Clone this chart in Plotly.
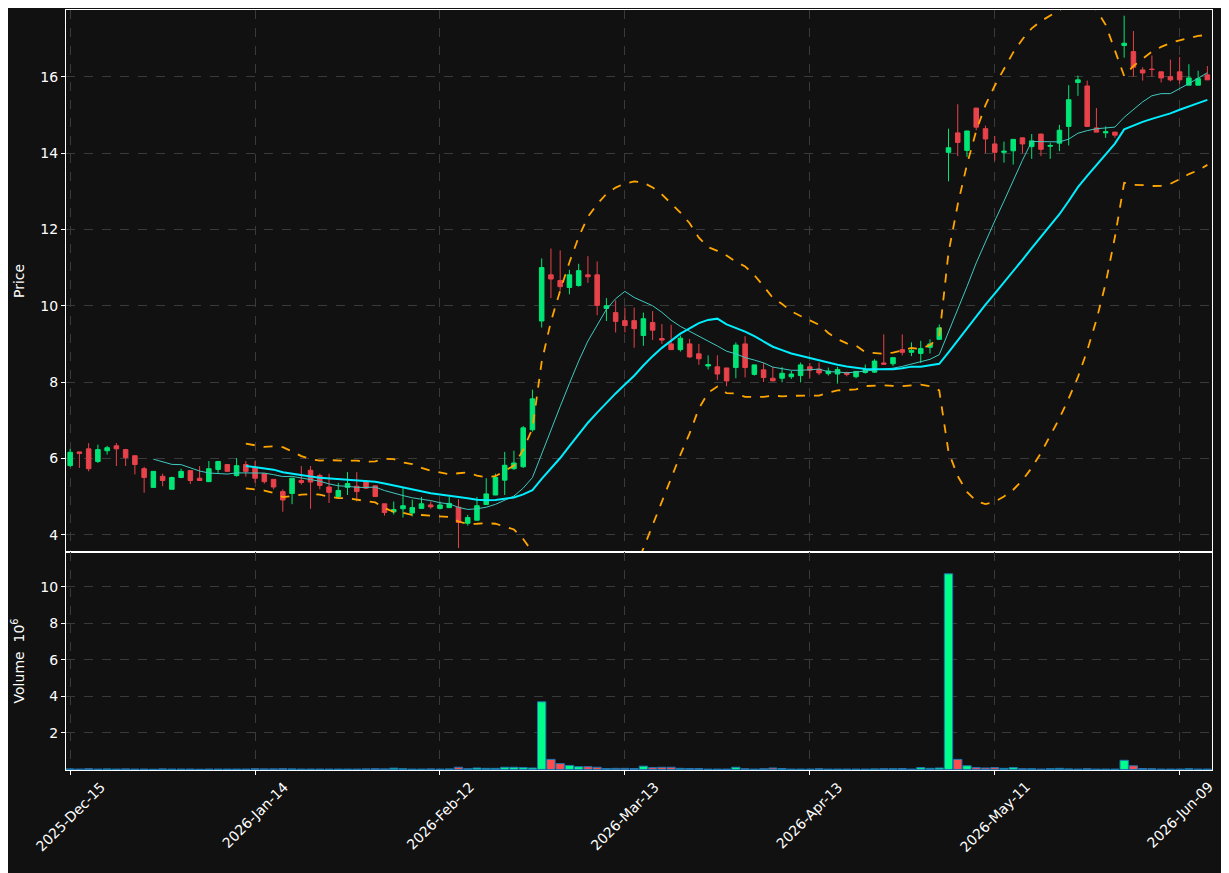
import numpy as np
import pandas as pd
import plotly.graph_objects as go
from plotly.subplots import make_subplots

# trading days (NYSE holidays skipped)
holidays = ["2025-12-25", "2026-01-01", "2026-01-19", "2026-02-16", "2026-04-03", "2026-05-25"]
dates = pd.bdate_range("2025-12-15", periods=124, freq="C", holidays=holidays)

opens = [5.81, 6.17, 6.25, 5.92, 6.20, 6.33, 6.23, 6.07, 5.73, 5.24,
         5.53, 5.19, 5.50, 5.68, 5.48, 5.39, 5.71, 5.84, 5.55, 5.84,
         5.76, 5.60, 5.45, 5.13, 5.08, 5.42, 5.69, 5.55, 5.25, 5.00,
         5.24, 5.27, 5.40, 5.28, 4.81, 4.60, 4.68, 4.57, 4.69, 4.78,
         4.69, 4.71, 4.72, 4.30, 4.38, 4.79, 5.04, 5.43, 5.73, 5.78,
         6.75, 9.60, 10.81, 10.66, 10.48, 10.53, 10.81, 10.81, 9.93, 9.82,
         9.61, 9.61, 9.22, 9.56, 9.14, 9.00, 8.85, 9.00, 8.74, 8.42,
         8.40, 8.37, 8.38, 9.00, 8.20, 8.32, 8.10, 8.10, 8.14, 8.17,
         8.40, 8.34, 8.22, 8.21, 8.25, 8.14, 8.25, 8.26, 8.50, 8.48,
         8.85, 8.78, 8.75, 8.91, 9.12, 14.02, 14.53, 14.07, 15.18, 14.64,
         14.24, 14.02, 14.06, 14.40, 14.17, 14.50, 14.18, 14.26, 14.70, 15.85,
         15.76, 14.66, 14.53, 14.55, 16.82, 16.66, 16.18, 16.20, 16.13, 16.00,
         16.13, 15.78, 15.78, 16.05]
highs = [6.25, 6.17, 6.40, 6.36, 6.33, 6.40, 6.25, 6.07, 5.78, 5.66,
         5.60, 5.52, 5.73, 5.68, 5.80, 5.93, 5.92, 5.84, 6.01, 5.93,
         5.93, 5.60, 5.45, 5.19, 5.48, 5.80, 5.80, 5.60, 5.60, 5.36,
         5.64, 5.64, 5.40, 5.28, 4.81, 4.87, 5.25, 4.92, 4.99, 4.87,
         4.87, 4.99, 4.93, 4.52, 4.99, 5.48, 5.60, 6.17, 6.20, 6.85,
         7.80, 11.24, 11.50, 11.45, 10.94, 11.10, 11.30, 11.16, 10.20, 10.14,
         9.95, 9.95, 9.82, 9.86, 9.52, 9.50, 9.22, 9.13, 9.00, 8.70,
         8.70, 8.37, 9.04, 9.20, 8.45, 8.50, 8.40, 8.39, 8.29, 8.51,
         8.50, 8.51, 8.38, 8.40, 8.27, 8.28, 8.46, 8.60, 9.25, 8.64,
         9.25, 9.04, 9.08, 9.12, 9.51, 14.64, 15.28, 14.58, 15.18, 14.72,
         14.45, 14.30, 14.36, 14.40, 14.50, 14.50, 14.27, 14.74, 15.78, 16.03,
         15.90, 15.18, 14.70, 14.55, 17.60, 17.20, 16.25, 16.56, 16.13, 16.45,
         16.52, 16.33, 16.16, 16.28]
lows = [5.78, 5.75, 5.66, 5.88, 6.10, 5.80, 5.80, 5.58, 5.10, 5.24,
        5.27, 5.19, 5.48, 5.33, 5.42, 5.39, 5.62, 5.66, 5.52, 5.52,
        5.36, 5.34, 5.19, 4.60, 4.80, 5.31, 4.68, 5.19, 4.83, 4.96,
        5.04, 4.87, 5.20, 5.00, 4.50, 4.53, 4.45, 4.48, 4.69, 4.68,
        4.66, 4.71, 3.65, 4.24, 4.38, 4.79, 5.04, 5.04, 5.70, 5.75,
        6.70, 9.43, 10.20, 10.40, 10.30, 10.50, 10.60, 9.75, 9.60, 9.30,
        9.30, 8.90, 8.95, 9.10, 9.00, 8.85, 8.80, 8.63, 8.45, 8.33,
        8.05, 7.89, 8.10, 8.12, 8.17, 8.00, 8.03, 7.99, 8.08, 7.99,
        8.10, 8.18, 8.17, 7.96, 8.15, 8.10, 8.22, 8.24, 8.45, 8.42,
        8.70, 8.68, 8.50, 8.75, 9.10, 13.26, 13.92, 13.90, 14.60, 14.00,
        13.80, 13.75, 13.70, 14.00, 13.85, 13.92, 13.85, 14.05, 14.20, 15.50,
        14.70, 14.55, 14.40, 14.40, 16.50, 16.00, 15.90, 16.00, 15.85, 15.88,
        15.82, 15.78, 15.78, 15.92]
closes = [6.16, 6.13, 5.73, 6.23, 6.28, 6.25, 6.02, 5.84, 5.50, 5.66,
          5.42, 5.50, 5.66, 5.42, 5.42, 5.73, 5.92, 5.66, 5.81, 5.66,
          5.48, 5.39, 5.25, 4.91, 5.48, 5.37, 5.38, 5.29, 5.11, 5.16,
          5.34, 5.13, 5.22, 5.00, 4.58, 4.66, 4.76, 4.71, 4.81, 4.73,
          4.78, 4.82, 4.32, 4.45, 4.76, 5.07, 5.50, 5.82, 5.88, 6.80,
          7.56, 11.00, 10.70, 10.50, 10.81, 10.92, 10.76, 10.01, 10.00, 9.59,
          9.48, 9.40, 9.66, 9.36, 9.10, 8.85, 9.15, 8.66, 8.61, 8.46,
          8.21, 8.03, 8.97, 8.38, 8.45, 8.12, 8.03, 8.23, 8.21, 8.45,
          8.31, 8.24, 8.29, 8.33, 8.20, 8.28, 8.33, 8.55, 8.47, 8.64,
          8.78, 8.83, 8.88, 9.00, 9.42, 14.14, 14.28, 14.58, 14.68, 14.37,
          14.02, 14.05, 14.36, 14.24, 14.32, 14.10, 14.20, 14.60, 15.40, 15.92,
          14.70, 14.55, 14.56, 14.47, 16.88, 16.25, 16.10, 16.19, 15.97, 15.92,
          15.92, 15.97, 15.95, 15.92]
volumes = [0.03, 0.02, 0.04, 0.02, 0.03, 0.02, 0.03, 0.02, 0.02, 0.01,
           0.03, 0.02, 0.02, 0.02, 0.01, 0.02, 0.02, 0.02, 0.02, 0.02,
           0.04, 0.03, 0.03, 0.04, 0.03, 0.02, 0.02, 0.02, 0.02, 0.02,
           0.02, 0.02, 0.03, 0.04, 0.03, 0.07, 0.04, 0.02, 0.02, 0.03,
           0.02, 0.03, 0.12, 0.04, 0.08, 0.06, 0.06, 0.12, 0.12, 0.10,
           0.08, 3.70, 0.55, 0.32, 0.22, 0.15, 0.15, 0.12, 0.05, 0.06,
           0.06, 0.05, 0.18, 0.10, 0.12, 0.12, 0.06, 0.05, 0.05, 0.02,
           0.02, 0.02, 0.12, 0.04, 0.02, 0.04, 0.08, 0.05, 0.02, 0.02,
           0.02, 0.04, 0.02, 0.02, 0.02, 0.02, 0.02, 0.03, 0.04, 0.04,
           0.05, 0.02, 0.10, 0.06, 0.08, 10.70, 0.55, 0.20, 0.10, 0.08,
           0.10, 0.06, 0.10, 0.04, 0.04, 0.02, 0.04, 0.06, 0.03, 0.02,
           0.04, 0.02, 0.02, 0.02, 0.50, 0.20, 0.05, 0.04, 0.02, 0.02,
           0.02, 0.04, 0.02, 0.02]

UP = "#00e676"
DOWN = "#e8424a"
VUP = "#00ff88"
VDOWN = "#ff4d4d"
GRID = "#3a3a3a"

x = np.arange(len(dates))
close_s = pd.Series(closes)
mav10 = close_s.rolling(10).mean()
mav20 = close_s.rolling(20).mean()
std20 = close_s.rolling(20).std()
upper = mav20 + 2 * std20
lower = mav20 - 2 * std20

fig = make_subplots(rows=2, cols=1, shared_xaxes=True, vertical_spacing=0,
                    row_heights=[0.713, 0.287])

fig.add_trace(go.Candlestick(x=x, open=opens, high=highs, low=lows, close=closes,
                             increasing=dict(line=dict(color=UP, width=1), fillcolor=UP),
                             decreasing=dict(line=dict(color=DOWN, width=1), fillcolor=DOWN),
                             whiskerwidth=0, showlegend=False), row=1, col=1)
fig.add_trace(go.Scatter(x=x, y=mav10, mode="lines", line=dict(color="#3fc9c0", width=1),
                         showlegend=False), row=1, col=1)
fig.add_trace(go.Scatter(x=x, y=mav20, mode="lines", line=dict(color="#00eeff", width=2),
                         showlegend=False), row=1, col=1)
for band in (upper, lower):
    fig.add_trace(go.Scatter(x=x, y=band, mode="lines",
                             line=dict(color="#ffa500", width=1.8, dash="dash"),
                             showlegend=False), row=1, col=1)

vcolors = [VUP if c >= o else VDOWN for o, c in zip(opens, closes)]
fig.add_trace(go.Bar(x=x, y=volumes, marker=dict(color=vcolors, line=dict(color="#1f77b4", width=1)),
                     width=0.9, showlegend=False), row=2, col=1)

tickvals = list(range(0, len(dates), 20))
ticktext = [dates[i].strftime("%Y-%b-%d") for i in tickvals]

axis_common = dict(showline=True, linecolor="white", linewidth=1, mirror=True,
                   showgrid=True, gridcolor=GRID, griddash="dash", zeroline=False,
                   ticks="outside", tickcolor="white", ticklen=4, automargin=False,
                   tickfont=dict(color="white", size=14))
fig.update_xaxes(**axis_common, range=[-0.45, 123.5], tickvals=tickvals,
                 showticklabels=False, rangeslider_visible=False)
fig.update_yaxes(**axis_common)
fig.update_yaxes(range=[3.55, 17.75], tickvals=[4, 6, 8, 10, 12, 14, 16],
                 title=dict(text="Price", font=dict(color="white", size=14), standoff=12),
                 row=1, col=1)
fig.update_yaxes(range=[-0.03, 11.9], tickvals=[2, 4, 6, 8, 10],
                 title=dict(text="Volume  10<sup>6</sup>", font=dict(color="white", size=14),
                            standoff=12),
                 row=2, col=1)

# matplotlib-style rotated date labels, centred under each tick
for tv, tt in zip(tickvals, ticktext):
    fig.add_annotation(x=tv, y=0, xref="x2", yref="paper", text=tt, textangle=-45,
                       showarrow=False, xanchor="center", yanchor="top", yshift=-6,
                       font=dict(color="white", size=14))

fig.update_layout(width=1229, height=873, paper_bgcolor="#111111", plot_bgcolor="#111111",
                  margin=dict(l=58, r=25, t=2, b=111), font=dict(family="DejaVu Sans"),
                  bargap=0.1)
fig.write_html("out.html")
